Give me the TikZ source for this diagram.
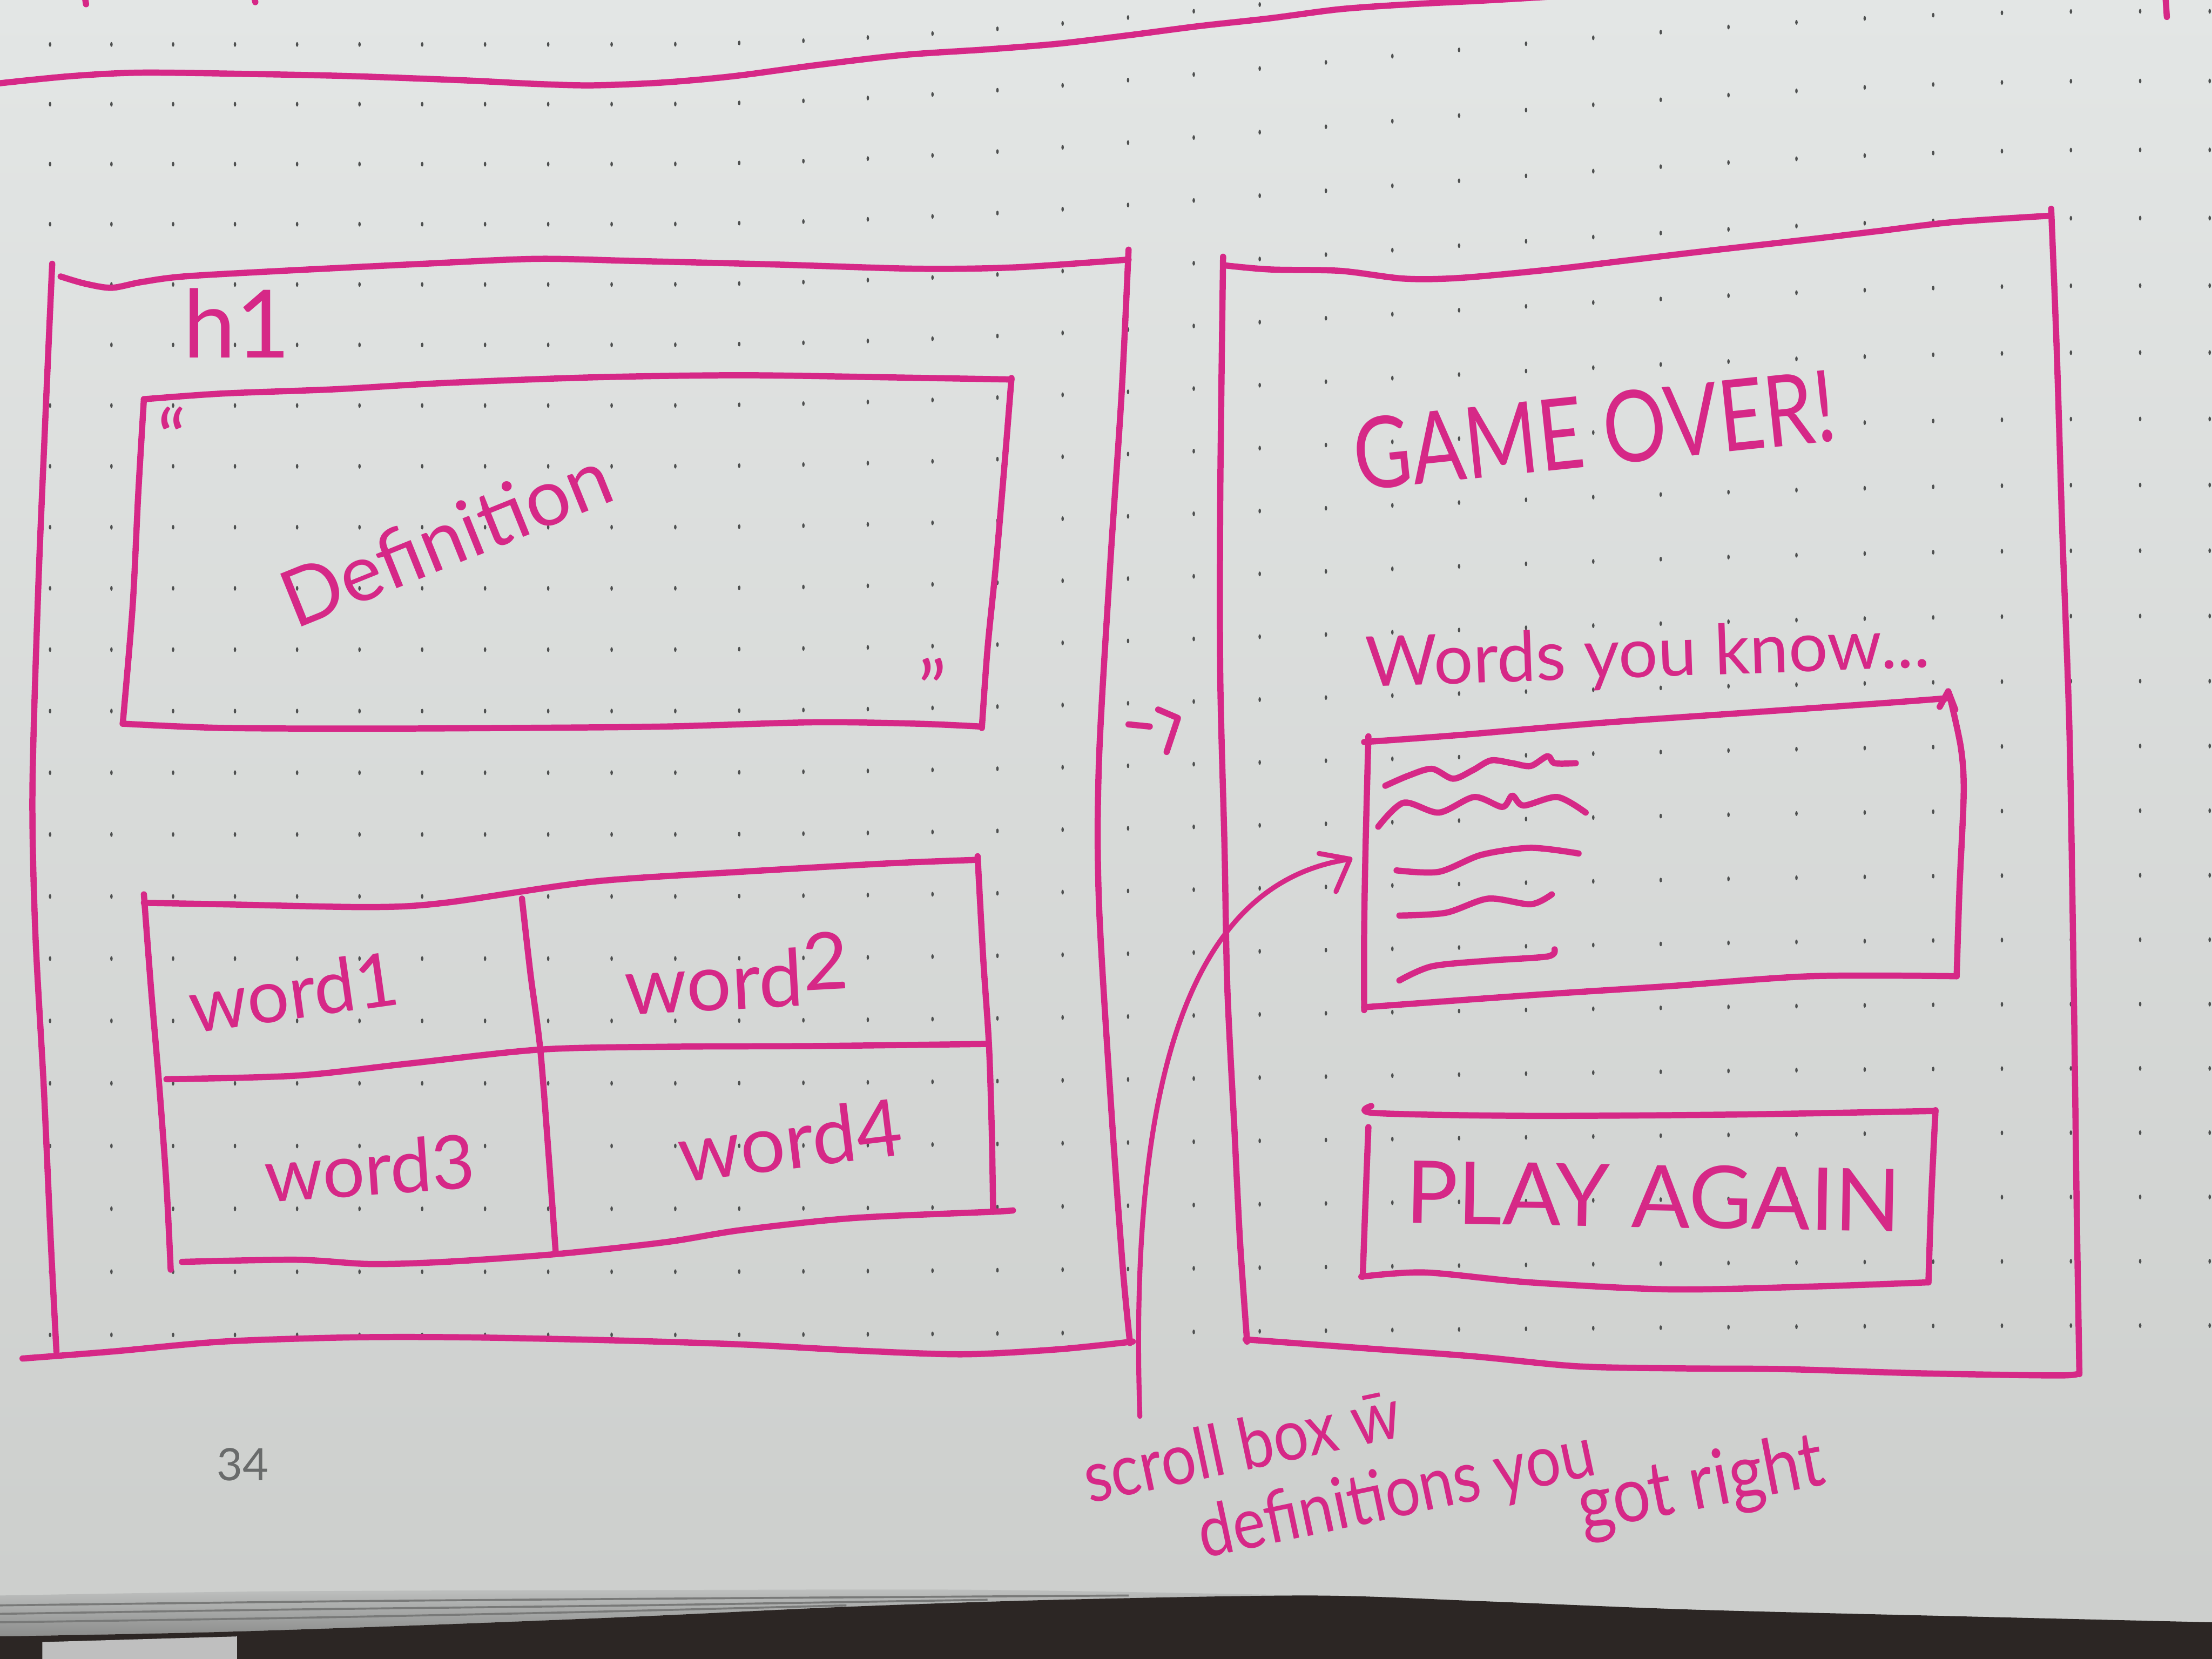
\documentclass[tikz,border=0pt]{standalone}
\usepackage{fontspec}
\newfontfamily\hand{Lato}
\definecolor{ink}{RGB}{214,40,135}
\definecolor{paperTop}{RGB}{227,230,229}
\definecolor{paperBot}{RGB}{204,206,204}
\definecolor{dotc}{RGB}{78,80,80}
\definecolor{deskc}{RGB}{44,38,36}
\definecolor{stackTop}{RGB}{190,192,191}
\definecolor{stackBot}{RGB}{140,141,140}
\definecolor{stackLine}{RGB}{120,121,120}
\definecolor{pagenum}{RGB}{105,107,107}

\begin{document}
\begin{tikzpicture}[x=0.01cm,y=-0.01cm,
  pen/.style={draw=ink, line width=1.25pt, line cap=round, line join=round},
  thinpen/.style={pen, line width=1.0pt},
  hw/.style={text=ink, inner sep=0pt, font=\hand\fontsize{#1}{#1}\selectfont},
]
\useasboundingbox (0,0) rectangle (1568,1176);

% paper
\shade[top color=paperTop, bottom color=paperBot] (0,0) rectangle (1568,1176);

% dot grid, bending upward toward the top right where the page curls
\foreach \row in {0,...,21}{
  \foreach \col in {-1,...,33}{
    \pgfmathsetmacro\dx{79+43.6*\col+0.09*\col*\col}
    \pgfmathsetmacro\dyo{31.5+42.3*\row+0.06*\row*\row}
    \pgfmathsetmacro\dt{max(0,min(1,(\dx-450)/1050))}
    \pgfmathsetmacro\dy{\dyo-80*exp(-\dyo/380)*(3*\dt*\dt-2*\dt*\dt*\dt)}
    \fill[dotc] (\dx,\dy) ellipse [x radius=0.9, y radius=1.7];
  }
}

% page stack and desk below the page
\shade[top color=stackTop, bottom color=stackBot]
  plot[smooth,tension=0.5] coordinates {(0,1131) (200,1128) (500,1127) (700,1127) (930,1131)}
  -- plot[smooth,tension=0.5] coordinates {(930,1131) (750,1134) (600,1139) (450,1146) (300,1152) (150,1157) (0,1160)} -- cycle;
\draw[stackLine, line width=0.4pt] plot[smooth,tension=0.5] coordinates {(0,1138) (250,1135) (500,1133) (800,1131)};
\draw[stackLine, line width=0.4pt] plot[smooth,tension=0.5] coordinates {(0,1144) (200,1141) (450,1138) (700,1134)};
\draw[stackLine, line width=0.4pt] plot[smooth,tension=0.5] coordinates {(0,1150) (200,1147) (400,1143) (600,1138)};
\fill[deskc] plot[smooth,tension=0.5] coordinates {(0,1160) (150,1157) (300,1152) (450,1146) (600,1139) (750,1134) (930,1131) (1050,1135) (1200,1141) (1400,1146) (1568,1150)}
  -- (1568,1176) -- (0,1176) -- cycle;
\fill[gray!50] (30,1164) -- (168,1160) -- (168,1176) -- (30,1176) -- cycle;

% rule along the top of the page
\draw[pen] plot[smooth,tension=0.5] coordinates {(0,59) (50,54) (100,51.5) (180,52.5) (250,54) (330,57) (380,59.5) (420,60.5) (470,58.5) (520,54) (580,46) (640,39) (700,35) (750,31) (800,25) (850,18.5) (900,13) (950,6.5) (1000,3) (1050,0.5) (1110,-3)};
\draw[pen] (60,-3) -- (61,3);
\draw[pen] (180,-3) -- (181,1.5);
\draw[pen] (1535,-3) -- (1536,12);

% ---------- left screen ----------
\draw[pen] plot[smooth,tension=0.5] coordinates {(37,187) (32,300) (27,420) (23,560) (25,660) (31,770) (36,880) (40,958)};
\draw[pen] plot[smooth,tension=0.5] coordinates {(43,196) (60,201) (79,204) (100,200) (130,196) (200,192) (300,187) (380,183.5) (450,185) (550,187.5) (650,190.5) (720,189.5) (800,184)};
\draw[pen] plot[smooth,tension=0.5] coordinates {(800,177) (795,280) (787,400) (779,540) (779,640) (788,790) (796,900) (801,952)};
\draw[pen] plot[smooth,tension=0.5] coordinates {(16,963) (80,958) (158,951) (250,948) (331,948) (430,950) (525,953) (610,957.5) (683,960) (750,956.5) (803,951)};

\node[hw=19] (h1) at (168,229) {h1};

% definition box
\draw[pen] plot[smooth,tension=0.5] coordinates {(102,283) (157,279) (236,276) (315,271.5) (420,267.5) (525,266) (630,267.5) (717,269)};
\draw[pen] plot[smooth,tension=0.5] coordinates {(102,283) (98,350) (94,430) (87,513)};
\draw[pen] plot[smooth,tension=0.5] coordinates {(87,513) (157,516) (262,516.5) (367,516) (472,515) (577,512) (650,513) (695,515)};
\draw[pen] plot[smooth,tension=0.5] coordinates {(717,268) (712,330) (706,400) (700,460) (696,516)};
\node[hw=16] (qopen) at (122,310) {“};
\node[hw=16] (qclose) at (661,488) {”};
\node[hw=16, rotate=22] (def) at (316,381) {Definition};

% answer grid
\draw[pen] plot[smooth,tension=0.5] coordinates {(102,640) (157,641) (262,643) (315,640) (420,625) (525,618) (630,612) (693,609.5)};
\draw[pen] plot[smooth,tension=0.5] coordinates {(102,634) (107,700) (113,771) (118,840) (121,900)};
\draw[pen] plot[smooth,tension=0.5] coordinates {(129,894.5) (210,893) (262,896) (315,894.5) (394,889) (472,880.5) (525,872) (604,863.5) (703,859) (718,858)};
\draw[pen] plot[smooth,tension=0.5] coordinates {(693,607) (697,680) (701,740) (703,800) (704,859)};
\draw[pen] plot[smooth,tension=0.5] coordinates {(118,765) (210,762.5) (289,754) (383,744) (472,742) (577,741.5) (701,740)};
\draw[pen] plot[smooth,tension=0.5] coordinates {(370,637) (376,690) (383,744) (389,820) (394,889)};
\node[hw=15, rotate=8] (w1) at (208,703) {word1};
\node[hw=16, rotate=3] (w2) at (522,690) {word\raisebox{3pt}{2}};
\node[hw=15, rotate=4] (w3) at (262,828) {word3};
\node[hw=16, rotate=7] (w4) at (560,808) {word4};

% transition mark
\draw[pen] (800,513.5) -- (815,515);
\draw[pen] (821,503) -- (835,509) -- (827,533);

% ---------- right screen ----------
\draw[pen] plot[smooth,tension=0.5] coordinates {(867,182) (865,350) (865,480) (868,600) (870,700) (875,800) (879,880) (884,951)};
\draw[pen] plot[smooth,tension=0.5] coordinates {(867,188) (900,191) (950,192) (995,197.5) (1035,197) (1100,191) (1150,185) (1209,178) (1284,169.5) (1334,163.5) (1384,157.5) (1452,153)};
\draw[pen] plot[smooth,tension=0.5] coordinates {(1454,148) (1458,250) (1462,380) (1467,520) (1470,700) (1472,850) (1474,974)};
\draw[pen] plot[smooth,tension=0.5] coordinates {(883,949.5) (971,956) (1045,961.5) (1118,968.5) (1191,970) (1264,970.5) (1362,973.5) (1460,975) (1474,973)};

\node[hw=16, rotate=6, yscale=1.25] (over) at (1130,305) {GAME OVER!};
\node[hw=14, rotate=2] (know) at (1168,466) {Words you know...};

% scroll list of known words
\draw[pen] plot[smooth,tension=0.5] coordinates {(967,526) (1035,521) (1134,512.5) (1234,505.5) (1334,498.5) (1380,495)};
\draw[pen] (1375,501) -- (1381,490) -- (1386,503);
\draw[pen] plot[smooth,tension=0.5] coordinates {(1382,493) (1390,530) (1392,562) (1389,630) (1387,692)};
\draw[pen] plot[smooth,tension=0.5] coordinates {(1387,692) (1284,692) (1184,699) (1084,705.5) (967,714)};
\draw[pen] plot[smooth,tension=0.5] coordinates {(970,522) (968,600) (967,660) (967,716)};
\draw[pen] plot[smooth,tension=0.5] coordinates {(982,557) (998,550) (1015,545) (1030,552) (1044,546) (1057,539) (1072,541) (1085,543) (1097,536) (1102,541) (1117,541)};
\draw[pen] plot[smooth,tension=0.5] coordinates {(977,586) (995,569) (1020,576) (1045,565) (1065,572) (1072,564) (1080,571) (1104,565) (1124,576)};
\draw[pen] plot[smooth,tension=0.5] coordinates {(990,617) (1020,618) (1050,606) (1085,601) (1119,605)};
\draw[pen] plot[smooth,tension=0.5] coordinates {(992,649) (1025,647) (1055,637) (1085,641) (1100,634)};
\draw[pen] plot[smooth,tension=0.5] coordinates {(992,695) (1015,685) (1055,681) (1097,678) (1102,673)};

% play again button
\draw[pen] plot[smooth,tension=0.5] coordinates {(972,784) (975,789) (1084,791) (1234,790) (1372,787.5)};
\draw[pen] plot[smooth,tension=0.5] coordinates {(1372,787) (1369,849) (1367,909)};
\draw[pen] plot[smooth,tension=0.5] coordinates {(1367,909) (1284,912) (1184,914) (1084,909) (1010,902) (965,905)};
\draw[pen] plot[smooth,tension=0.5] coordinates {(970,799) (968,850) (966,905)};
\node[hw=17.5, rotate=-1] (again) at (1172,848) {PLAY AGAIN};

% annotation with its arrow into the list
\coordinate (noteTail) at (808,1004);
\coordinate (noteTip) at (957,609);
\draw[thinpen] (noteTail) .. controls (800,760) and (845,625) .. (noteTip);
\draw[thinpen] ([shift={(-22,-4)}]noteTip) -- (noteTip) -- ([shift={(-10,23)}]noteTip);
\node[hw=12.5, rotate=12, yscale=1.15] (note1) at (880,1024) {scroll box \={w}};
\node[hw=12.5, rotate=12, yscale=1.15] (note2) at (990,1061) {definitions you};
\node[hw=13.5, rotate=11, yscale=1.15] (note3) at (1206,1054) {got right};

% page number
\node[text=pagenum, inner sep=0pt, font=\hand\fontsize{9}{9}\selectfont] (pg) at (172,1038) {34};
\end{tikzpicture}
\end{document}
